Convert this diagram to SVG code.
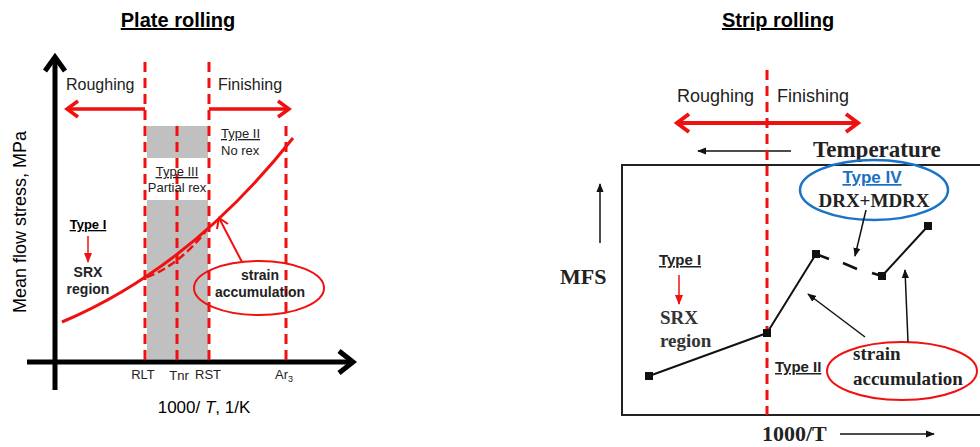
<svg xmlns="http://www.w3.org/2000/svg" width="980" height="447" viewBox="0 0 980 447">
<style>
.sans{font-family:"Liberation Sans",Arial,sans-serif}
.serif{font-family:"Liberation Serif","Times New Roman",serif;font-weight:bold}
.b{font-weight:bold}
.u{text-decoration:underline}
.rdash{stroke:#f01010;stroke-width:3;stroke-dasharray:10 6;fill:none}
.red{stroke:#f01010;fill:none}
.blk{stroke:#111;fill:none}
.sq{fill:#111}
</style>
<defs>
<marker id="ah" viewBox="0 0 10 10" refX="9" refY="5" markerWidth="9" markerHeight="9" markerUnits="userSpaceOnUse" orient="auto"><path d="M0,1 L10,5 L0,9 Z" fill="#111"/></marker>
<marker id="ahr" viewBox="0 0 10 10" refX="9" refY="5" markerWidth="10" markerHeight="10" markerUnits="userSpaceOnUse" orient="auto"><path d="M0,1 L10,5 L0,9 Z" fill="#f01010"/></marker>
</defs>
<rect width="980" height="447" fill="#fff"/>

<!-- LEFT PANEL -->
<g id="plate-title"><text class="sans b u" x="178" y="27" font-size="20" text-anchor="middle">Plate rolling</text></g>

<g id="left-shading">
<rect x="147" y="126" width="61" height="32" fill="#c0c0c0"/>
<rect x="147" y="200" width="61" height="159" fill="#c0c0c0"/>
</g>

<g id="left-axes">
<line x1="55" y1="57" x2="55" y2="390" stroke="#000" stroke-width="5"/>
<polyline points="45,71 55,57 65,71" stroke="#000" stroke-width="5" fill="none"/>
<line x1="27" y1="362" x2="352" y2="362" stroke="#000" stroke-width="5"/>
<polyline points="339,351 353,362 339,373" stroke="#000" stroke-width="5" fill="none"/>
<text class="sans" transform="translate(26,222) rotate(-90)" font-size="18" text-anchor="middle">Mean flow stress, MPa</text>
<text class="sans" x="204" y="413" font-size="17" text-anchor="middle">1000/ <tspan font-style="italic">T</tspan>, 1/K</text>
</g>

<g id="left-guides">
<line class="rdash" x1="145" y1="62" x2="145" y2="360"/>
<line class="rdash" x1="209" y1="62" x2="209" y2="360"/>
<line class="rdash" x1="177" y1="126" x2="177" y2="360"/>
<line class="rdash" x1="286" y1="126" x2="286" y2="360"/>
<text class="sans" x="143" y="379" font-size="13" text-anchor="middle" fill="#222">RLT</text>
<text class="sans" x="179" y="380" font-size="13" text-anchor="middle" fill="#222">Tnr</text>
<text class="sans" x="208" y="379" font-size="13" text-anchor="middle" fill="#222">RST</text>
<text class="sans" x="284" y="379" font-size="13" text-anchor="middle" fill="#222">Ar<tspan font-size="9" dy="3">3</tspan></text>
</g>

<g id="left-roughing">
<text class="sans" x="66" y="90" font-size="16" fill="#222">Roughing</text>
<line class="red" x1="145" y1="109" x2="68" y2="109" stroke-width="3.5"/>
<polyline class="red" points="78,101 67,109 78,117" stroke-width="3.5"/>
</g>
<g id="left-finishing">
<text class="sans" x="218" y="90" font-size="16" fill="#222">Finishing</text>
<line class="red" x1="209" y1="109" x2="288" y2="109" stroke-width="3.5"/>
<polyline class="red" points="278,101 289,109 278,117" stroke-width="3.5"/>
</g>

<g id="left-type2">
<text class="sans u" x="221" y="138" font-size="13" fill="#222">Type II</text>
<text class="sans" x="221" y="155" font-size="13" fill="#222">No rex</text>
</g>
<g id="left-type3">
<text class="sans u" x="177" y="176" font-size="13" text-anchor="middle" fill="#222">Type III</text>
<text class="sans" x="177" y="192" font-size="13" text-anchor="middle" fill="#222">Partial rex</text>
</g>

<g id="left-curve">
<path class="red" d="M62,322 Q190,268 293,138" stroke-width="3"/>
<path class="red" d="M147,277 Q178,266 206,231" stroke-width="2.5" stroke-dasharray="8 4"/>
</g>

<g id="left-type1">
<text class="sans b u" x="88" y="229" font-size="13" text-anchor="middle">Type I</text>
<line x1="88" y1="236" x2="88" y2="262" stroke="#f01010" stroke-width="1.5" marker-end="url(#ahr)"/>
<text class="sans b" x="88" y="277" font-size="14" text-anchor="middle" fill="#222">SRX</text>
<text class="sans b" x="88" y="294" font-size="14" text-anchor="middle" fill="#222">region</text>
</g>

<g id="left-strain">
<ellipse class="red" cx="259" cy="288" rx="65" ry="27" stroke-width="2"/>
<text class="sans b" x="260" y="280" font-size="14" text-anchor="middle" fill="#222">strain</text>
<text class="sans b" x="260" y="297" font-size="14" text-anchor="middle" fill="#222">accumulation</text>
</g>

<!-- RIGHT PANEL -->
<g id="strip-title"><text class="sans b u" x="778" y="27" font-size="20" text-anchor="middle">Strip rolling</text></g>

<g id="right-frame">
<path d="M984,165 L622,165 L622,415 L984,415" stroke="#222" stroke-width="2" fill="none"/>
<line x1="600" y1="243" x2="600" y2="184" stroke="#111" stroke-width="1.5" marker-end="url(#ah)"/>
<text class="serif" x="560" y="284" font-size="22" fill="#222">MFS</text>
<text class="serif" x="762" y="441" font-size="22" fill="#222">1000/T</text>
<line x1="840" y1="434" x2="934" y2="434" stroke="#111" stroke-width="1.5" marker-end="url(#ah)"/>
<line x1="791" y1="151" x2="698" y2="151" stroke="#111" stroke-width="1.5" marker-end="url(#ah)"/>
<text class="serif" x="813" y="157" font-size="23" fill="#222">Temperature</text>
</g>

<g id="right-guide">
<line class="rdash" x1="767" y1="70" x2="767" y2="415"/>
</g>

<g id="right-roughing">
<text class="sans" x="677" y="102" font-size="18" fill="#222">Roughing</text>
<text class="sans" x="777" y="102" font-size="18" fill="#222">Finishing</text>
<line class="red" x1="677" y1="123" x2="858" y2="123" stroke-width="4"/>
<polyline class="red" points="689,114 677,123 689,132" stroke-width="4"/>
<polyline class="red" points="846,114 858,123 846,132" stroke-width="4"/>
</g>

<g id="right-data">
<polyline class="blk" points="649,376 767,333 816,254" stroke-width="2"/>
<line class="blk" x1="816" y1="254" x2="829" y2="259" stroke-width="2.5"/>
<line class="blk" x1="843" y1="263" x2="857" y2="269" stroke-width="2.5"/>
<line class="blk" x1="872" y1="273" x2="882" y2="276" stroke-width="2.5"/>
<line class="blk" x1="882" y1="276" x2="928" y2="226" stroke-width="2"/>
<rect class="sq" x="645" y="372" width="8" height="8"/>
<rect class="sq" x="763" y="329" width="8" height="8"/>
<rect class="sq" x="812" y="250" width="8" height="8"/>
<rect class="sq" x="878" y="272" width="8" height="8"/>
<rect class="sq" x="924" y="222" width="8" height="8"/>
</g>

<g id="right-type4">
<ellipse cx="874" cy="190" rx="74" ry="30" fill="none" stroke="#1a73c7" stroke-width="2.5"/>
<text class="sans b u" x="872" y="183" font-size="17" text-anchor="middle" fill="#1a6fc4">Type IV</text>
<text class="serif" x="874" y="207" font-size="19" text-anchor="middle" fill="#222">DRX+MDRX</text>
<line x1="866" y1="210" x2="855" y2="256" stroke="#111" stroke-width="1.5" marker-end="url(#ah)"/>
</g>

<g id="right-type1">
<text class="sans b u" x="680" y="265" font-size="15" text-anchor="middle" fill="#222">Type I</text>
<line x1="679" y1="275" x2="679" y2="304" stroke="#f01010" stroke-width="1.5" marker-end="url(#ahr)"/>
<text class="serif" x="660" y="324" font-size="19" fill="#333">SRX</text>
<text class="serif" x="660" y="347" font-size="19" fill="#333">region</text>
</g>

<g id="right-type2">
<text class="sans b u" x="775" y="372" font-size="15" fill="#222">Type II</text>
</g>

<g id="right-strain">
<ellipse class="red" cx="902" cy="371" rx="75" ry="29" stroke-width="2"/>
<text class="serif" x="853" y="360" font-size="19" fill="#222">strain</text>
<text class="serif" x="853" y="385" font-size="19" fill="#222">accumulation</text>
<line x1="865" y1="337" x2="808" y2="294" stroke="#111" stroke-width="1.5" marker-end="url(#ah)"/>
<line x1="908" y1="342" x2="905" y2="270" stroke="#111" stroke-width="1.5" marker-end="url(#ah)"/>
</g>

<g id="left-strain-arrow">
<line x1="242" y1="262" x2="219" y2="218" stroke="#f01010" stroke-width="2"/>
<polyline points="217,229 219,218 228,224" stroke="#f01010" stroke-width="2" fill="none"/>
</g>
</svg>
